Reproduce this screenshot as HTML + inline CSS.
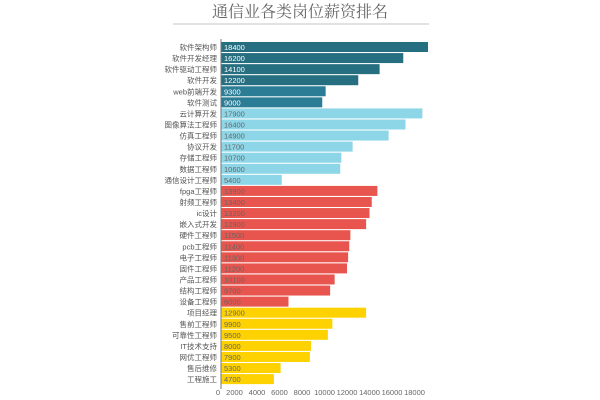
<!DOCTYPE html>
<html><head><meta charset="utf-8">
<style>
html,body{margin:0;padding:0;background:#fff;}
svg{display:block;}
text{font-family:"Liberation Sans","Noto Sans CJK SC",sans-serif;}
</style></head>
<body>
<svg id="chart" width="600" height="400" viewBox="0 0 600 400" xmlns="http://www.w3.org/2000/svg">
<text x="300" y="17" text-anchor="middle" font-size="16" fill="#666" style="font-family:'Liberation Serif','Noto Serif CJK SC',serif">通信业各类岗位薪资排名</text>
<rect x="173" y="23" width="256" height="2" fill="#e2e2e2"/>
<g id="bars"></g>
<g id="labels"></g>
<line x1="221" y1="39" x2="221" y2="389" stroke="#777" stroke-width="1"/>
<g id="ticks"></g>
</svg>
<script>
const categories=["软件架构师","软件开发经理","软件驱动工程师","软件开发","web前端开发","软件测试","云计算开发","图像算法工程师","仿真工程师","协议开发","存储工程师","数据工程师","通信设计工程师","fpga工程师","射频工程师","ic设计","嵌入式开发","硬件工程师","pcb工程师","电子工程师","固件工程师","产品工程师","结构工程师","设备工程师","项目经理","售前工程师","可靠性工程师","IT技术支持","网优工程师","售后维修","工程施工"];
const values=[18400,16200,14100,12200,9300,9000,17900,16400,14900,11700,10700,10600,5400,13900,13400,13200,12900,11500,11400,11300,11200,10100,9700,6000,12900,9900,9500,8000,7900,5300,4700];
const groups=[0,0,0,0,1,1,2,2,2,2,2,2,2,3,3,3,3,3,3,3,3,3,3,3,4,4,4,4,4,4,4];
const tickValues=[0,2000,4000,6000,8000,10000,12000,14000,16000,18000];
const colors=["#256f80","#2b7c95","#8dd6e8","#e8554e","#fdd200"];
const textColors=["#fff","#fff","#666","#666","#666"];
const x0=221,pxPer=207/18400,top0=42,pitch=11.07,bh=10;
const xs=v=>x0+v*pxPer;
const ys=i=>top0+i*pitch;
const NS="http://www.w3.org/2000/svg";
const bars=document.getElementById('bars'),labels=document.getElementById('labels'),ticks=document.getElementById('ticks');
categories.forEach((c,i)=>{
  const r=document.createElementNS(NS,'rect');
  
  
  r.setAttribute('x',x0);r.setAttribute('y',ys(i));
  r.setAttribute('width',xs(values[i])-x0);r.setAttribute('height',bh);
  r.setAttribute('fill',colors[groups[i]]);
  bars.appendChild(r);
  const v=document.createElementNS(NS,'text');
  
  
  v.setAttribute('x',x0+3);v.setAttribute('y',ys(i)+8);
  v.setAttribute('font-size','7.5');v.setAttribute('fill',textColors[groups[i]]);
  v.textContent=values[i];
  bars.appendChild(v);
  const t=document.createElementNS(NS,'text');
  
  
  t.setAttribute('x',x0-4);t.setAttribute('y',ys(i)+8);
  t.setAttribute('font-size','7.5');t.setAttribute('fill','#555');t.setAttribute('text-anchor','end');
  t.textContent=c;
  labels.appendChild(t);
});
tickValues.forEach(v=>{
  const t=document.createElementNS(NS,'text');
  
  
  t.setAttribute('x',v===0?x0-3:xs(v)-9);t.setAttribute('y',395);
  t.setAttribute('font-size','7.5');t.setAttribute('fill','#666');t.setAttribute('text-anchor','middle');
  t.textContent=v;
  ticks.appendChild(t);
});
</script>
</body></html>
